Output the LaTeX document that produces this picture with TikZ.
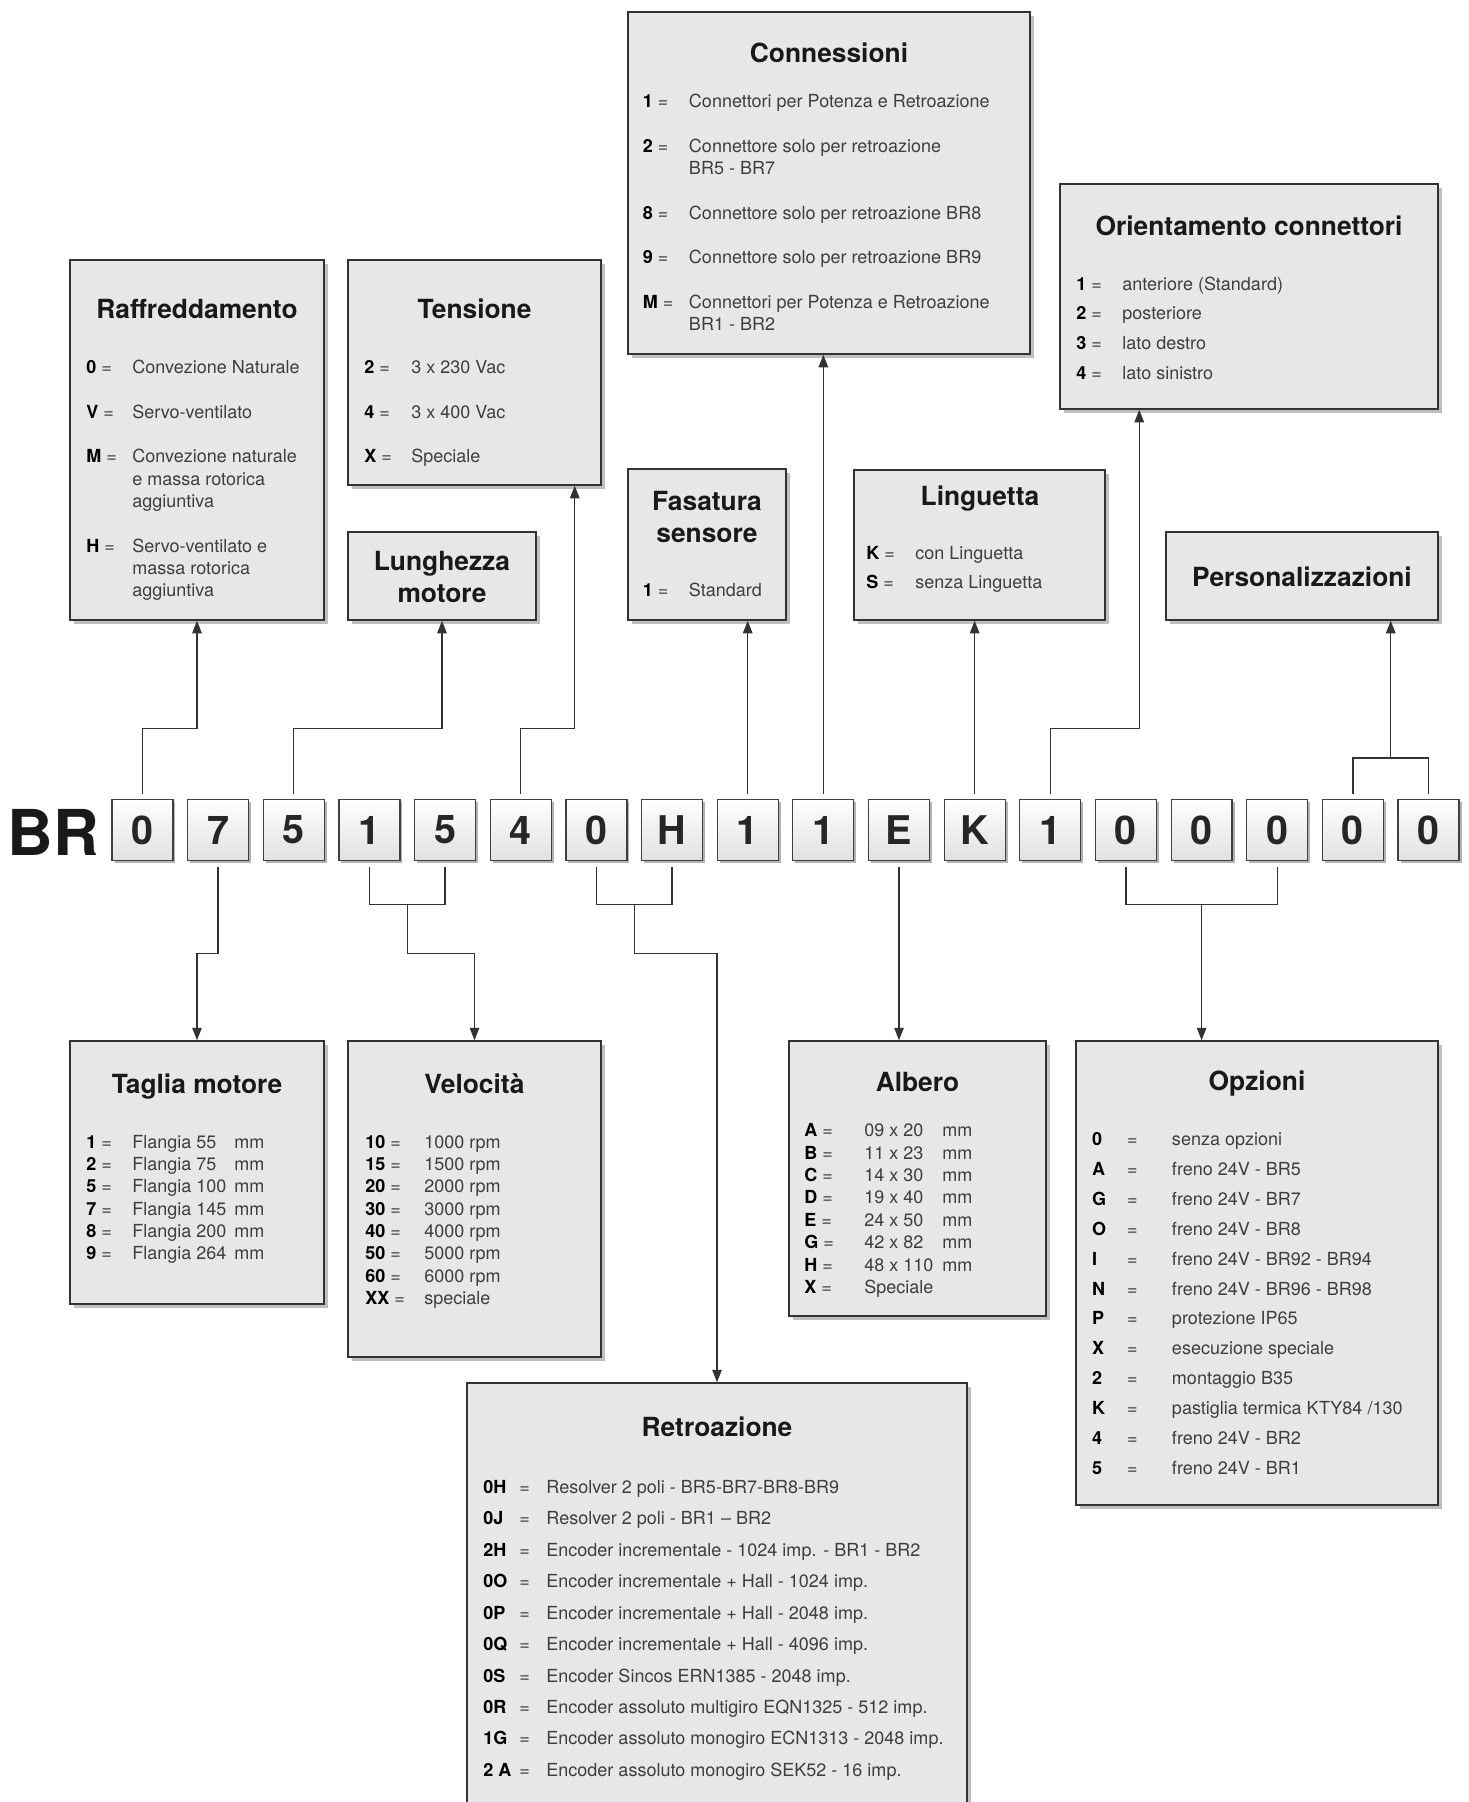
\documentclass[tikz,border=0pt]{standalone}
\usepackage{fontspec}
\setmainfont{TeX Gyre Heros}
\usepackage{array}
\usetikzlibrary{arrows.meta,shadows,fit,calc}
\definecolor{boxgray}{RGB}{230,231,232}
\definecolor{inkgray}{RGB}{62,62,62}
\newcommand{\kw}[1]{\textbf{\color{black}#1}}
\newcommand{\listfont}[1]{\fontsize{10.25pt}{#1}\selectfont}
\newcommand{\titlefont}{\fontsize{15pt}{18.4pt}\selectfont\bfseries}

\begin{document}
\begin{tikzpicture}[x=0.02cm, y=-0.02cm,
    infobox/.style={draw=black!80, line width=0.85pt, fill=boxgray, inner sep=0pt,
        drop shadow={shadow xshift=0.08cm, shadow yshift=-0.08cm, opacity=0.5}},
    codebox/.style={draw=black!75, line width=0.7pt, top color=white, bottom color=black!12,
        minimum width=1.22cm, minimum height=1.22cm, inner sep=0pt, outer sep=0.12cm,
        font=\fontsize{22.5pt}{22.5pt}\selectfont\bfseries, text=black!85,
        drop shadow={shadow xshift=0.05cm, shadow yshift=-0.05cm, opacity=0.6}},
    boxtitle/.style={anchor=base, inner sep=0pt, font=\titlefont, text=black!90},
    boxlist/.style={anchor=base west, inner sep=0pt, text=inkgray},
    line/.style={draw=black!80, line width=0.75pt},
    conn/.style={line, -{Triangle[length=0.25cm,width=0.19cm]}}]
    \useasboundingbox (0,0) rectangle (1469,1802);

    % Code
    \node[anchor=base west, inner sep=0pt, font=\fontsize{36pt}{36pt}\selectfont\bfseries, text=black!90] (br) at (7,855) {BR};
    \node[codebox] (c0) at (142.5,830) {0};
    \node[codebox] (c1) at (218.15,830) {7};
    \node[codebox] (c2) at (293.8,830) {5};
    \node[codebox] (c3) at (369.45,830) {1};
    \node[codebox] (c4) at (445.1,830) {5};
    \node[codebox] (c5) at (520.75,830) {4};
    \node[codebox] (c6) at (596.4,830) {0};
    \node[codebox] (c7) at (672.05,830) {H};
    \node[codebox] (c8) at (747.7,830) {1};
    \node[codebox] (c9) at (823.35,830) {1};
    \node[codebox] (c10) at (899,830) {E};
    \node[codebox] (c11) at (974.65,830) {K};
    \node[codebox] (c12) at (1050.3,830) {1};
    \node[codebox] (c13) at (1125.95,830) {0};
    \node[codebox] (c14) at (1201.6,830) {0};
    \node[codebox] (c15) at (1277.25,830) {0};
    \node[codebox] (c16) at (1352.9,830) {0};
    \node[codebox] (c17) at (1428.55,830) {0};

    % Upper boxes
    \node[infobox, fit={(70,260) (324,620)}] (raff) {};
    \node[boxtitle] (raffT) at (197,318.3) {Raffreddamento};
    \node[boxlist, font={\listfont{12.7pt}}] (raffL) at (86,373.5) {\begin{tabular}[t]{@{}p{26.2pt}@{}l@{}}
        \kw{0} = & Convezione Naturale\\[12.7pt]
        \kw{V} = & Servo-ventilato\\[12.7pt]
        \kw{M} = & Convezione naturale\\
         & e massa rotorica\\
         & aggiuntiva\\[12.7pt]
        \kw{H} = & Servo-ventilato e\\
         & massa rotorica\\
         & aggiuntiva
    \end{tabular}};

    \node[infobox, fit={(348,260) (601,485)}] (tens) {};
    \node[boxtitle] (tensT) at (474.5,318.3) {Tensione};
    \node[boxlist, font={\listfont{12.7pt}}] (tensL) at (364,373.5) {\begin{tabular}[t]{@{}p{26.7pt}@{}l@{}}
        \kw{2} = & 3 x 230 Vac\\[12.7pt]
        \kw{4} = & 3 x 400 Vac\\[12.7pt]
        \kw{X} = & Speciale
    \end{tabular}};

    \node[infobox, fit={(348,532) (536,620)}] (lung) {};
    \node[boxtitle] (lungT) at (442,570) {\begin{tabular}[t]{@{}c@{}}Lunghezza\\motore\end{tabular}};

    \node[infobox, fit={(628,12) (1030,354)}] (conn) {};
    \node[boxtitle] (connT) at (829,62.7) {Connessioni};
    \node[boxlist, font={\listfont{12.7pt}}] (connL) at (642.6,107.5) {\begin{tabular}[t]{@{}p{26.2pt}@{}l@{}}
        \kw{1} = & Connettori per Potenza e Retroazione\\[12.7pt]
        \kw{2} = & Connettore solo per retroazione\\
         & BR5 - BR7\\[12.7pt]
        \kw{8} = & Connettore solo per retroazione BR8\\[12.7pt]
        \kw{9} = & Connettore solo per retroazione BR9\\[12.7pt]
        \kw{M} = & Connettori per Potenza e Retroazione\\
         & BR1 - BR2
    \end{tabular}};

    \node[infobox, fit={(628,469) (786,620)}] (fas) {};
    \node[boxtitle, font={\fontsize{15pt}{18.6pt}\selectfont\bfseries}] (fasT) at (707,510) {\begin{tabular}[t]{@{}c@{}}Fasatura\\sensore\end{tabular}};
    \node[boxlist, font={\listfont{12.7pt}}] (fasL) at (642.6,596.5) {\begin{tabular}[t]{@{}p{26.2pt}@{}l@{}}
        \kw{1} = & Standard
    \end{tabular}};

    \node[infobox, fit={(854,470) (1105,620)}] (ling) {};
    \node[boxtitle] (lingT) at (980,505) {Linguetta};
    \node[boxlist, font={\listfont{16.5pt}}] (lingL) at (866,559.5) {\begin{tabular}[t]{@{}p{27.9pt}@{}l@{}}
        \kw{K} = & con Linguetta\\
        \kw{S} = & senza Linguetta
    \end{tabular}};

    \node[infobox, fit={(1060,184) (1438,409)}] (orient) {};
    \node[boxtitle] (orientT) at (1249,235) {Orientamento connettori};
    \node[boxlist, font={\listfont{16.95pt}}] (orientL) at (1076,290) {\begin{tabular}[t]{@{}p{26.2pt}@{}l@{}}
        \kw{1} = & anteriore (Standard)\\
        \kw{2} = & posteriore\\
        \kw{3} = & lato destro\\
        \kw{4} = & lato sinistro
    \end{tabular}};

    \node[infobox, fit={(1166,532) (1438,620)}] (pers) {};
    \node[boxtitle] (persT) at (1302,586) {Personalizzazioni};

    % Lower boxes
    \node[infobox, fit={(70,1041) (324,1304)}] (tag) {};
    \node[boxtitle] (tagT) at (197,1093.3) {Taglia motore};
    \node[boxlist, font={\listfont{12.72pt}}] (tagL) at (86,1148) {\begin{tabular}[t]{@{}p{26.2pt}@{}p{58pt}@{}l@{}}
        \kw{1} = & Flangia 55 & mm\\
        \kw{2} = & Flangia 75 & mm\\
        \kw{5} = & Flangia 100 & mm\\
        \kw{7} = & Flangia 145 & mm\\
        \kw{8} = & Flangia 200 & mm\\
        \kw{9} = & Flangia 264 & mm
    \end{tabular}};

    \node[infobox, fit={(348,1041) (601,1357)}] (vel) {};
    \node[boxtitle] (velT) at (474.5,1093.3) {Velocità};
    \node[boxlist, font={\listfont{12.72pt}}] (velL) at (365,1148) {\begin{tabular}[t]{@{}p{33.6pt}@{}l@{}}
        \kw{10} = & 1000 rpm\\
        \kw{15} = & 1500 rpm\\
        \kw{20} = & 2000 rpm\\
        \kw{30} = & 3000 rpm\\
        \kw{40} = & 4000 rpm\\
        \kw{50} = & 5000 rpm\\
        \kw{60} = & 6000 rpm\\
        \kw{XX} = & speciale
    \end{tabular}};

    \node[infobox, fit={(789,1041) (1046,1316)}] (alb) {};
    \node[boxtitle] (albT) at (917.5,1091.7) {Albero};
    \node[boxlist, font={\listfont{12.75pt}}] (albL) at (804,1136.7) {\begin{tabular}[t]{@{}p{34.1pt}@{}p{44.4pt}@{}l@{}}
        \kw{A} = & 09 x 20 & mm\\
        \kw{B} = & 11 x 23 & mm\\
        \kw{C} = & 14 x 30 & mm\\
        \kw{D} = & 19 x 40 & mm\\
        \kw{E} = & 24 x 50 & mm\\
        \kw{G} = & 42 x 82 & mm\\
        \kw{H} = & 48 x 110 & mm\\
        \kw{X} = & Speciale &
    \end{tabular}};

    \node[infobox, fit={(1076,1041) (1438,1505)}] (opz) {};
    \node[boxtitle] (opzT) at (1257,1090) {Opzioni};
    \node[boxlist, font={\listfont{17pt}}] (opzL) at (1091.7,1145.7) {\begin{tabular}[t]{@{}p{19.9pt}@{}p{25.6pt}@{}l@{}}
        \kw{0} & = & senza opzioni\\
        \kw{A} & = & freno 24V - BR5\\
        \kw{G} & = & freno 24V - BR7\\
        \kw{O} & = & freno 24V - BR8\\
        \kw{I} & = & freno 24V - BR92 - BR94\\
        \kw{N} & = & freno 24V - BR96 - BR98\\
        \kw{P} & = & protezione IP65\\
        \kw{X} & = & esecuzione speciale\\
        \kw{2} & = & montaggio B35\\
        \kw{K} & = & pastiglia termica KTY84 /130\\
        \kw{4} & = & freno 24V - BR2\\
        \kw{5} & = & freno 24V - BR1
    \end{tabular}};

    \node[infobox, fit={(467,1383) (967,1850)}] (retro) {};
    \node[boxtitle] (retroT) at (717,1436.7) {Retroazione};
    \node[boxlist, font={\listfont{17.9pt}}] (retroL) at (483,1493.3) {\begin{tabular}[t]{@{}p{20.5pt}@{}p{15.4pt}@{}l@{}}
        \kw{0H} & = & Resolver 2 poli - BR5-BR7-BR8-BR9\\
        \kw{0J} & = & Resolver 2 poli - BR1 – BR2\\
        \kw{2H} & = & Encoder incrementale - 1024 imp. - BR1 - BR2\\
        \kw{0O} & = & Encoder incrementale + Hall - 1024 imp.\\
        \kw{0P} & = & Encoder incrementale + Hall - 2048 imp.\\
        \kw{0Q} & = & Encoder incrementale + Hall - 4096 imp.\\
        \kw{0S} & = & Encoder Sincos ERN1385 - 2048 imp.\\
        \kw{0R} & = & Encoder assoluto multigiro EQN1325 - 512 imp.\\
        \kw{1G} & = & Encoder assoluto monogiro ECN1313 - 2048 imp.\\
        \kw{2 A} & = & Encoder assoluto monogiro SEK52 - 16 imp.
    \end{tabular}};

    % Connections up
    \draw[conn] (c0.north) -- ++(0,-65) -| (raff.south);
    \draw[conn] (c2.north) -- ++(0,-65) -| (lung.south);
    \draw[conn] (c5.north) -- ++(0,-65) -| ($(tens.south east)+(-27,0)$);
    \draw[conn] (c8.north) -- (c8.north |- fas.south);
    \draw[conn] (c9.north) -- (c9.north |- conn.south);
    \draw[conn] (c11.north) -- (c11.north |- ling.south);
    \draw[conn] (c12.north) -- ++(0,-65) -| ($(orient.south west)+(80,0)$);
    \draw[line] (c16.north) -- ++(0,-35.5) -| (c17.north);
    \coordinate (persJ) at ($(c16.north)!0.5!(c17.north)+(0,-35.5)$);
    \draw[conn] (persJ) -- (persJ |- pers.south);

    % Connections down
    \draw[conn] (c1.south) -- ++(0,87) -| (tag.north);
    \draw[line] (c3.south) -- ++(0,38) -| (c4.south);
    \coordinate (velJ) at ($(c3.south)!0.5!(c4.south)+(0,38)$);
    \draw[conn] (velJ) -- ++(0,49) -| (vel.north);
    \draw[line] (c6.south) -- ++(0,38) -| (c7.south);
    \coordinate (retroJ) at ($(c6.south)!0.5!(c7.south)+(0,38)$);
    \draw[conn] (retroJ) -- ++(0,49) -| (retro.north);
    \draw[conn] (c10.south) -- (c10.south |- alb.north);
    \draw[line] (c13.south) -- ++(0,38) -| (c15.south);
    \coordinate (opzJ) at ($(c13.south)!0.5!(c15.south)+(0,38)$);
    \draw[conn] (opzJ) -- (opzJ |- opz.north);
\end{tikzpicture}
\end{document}
